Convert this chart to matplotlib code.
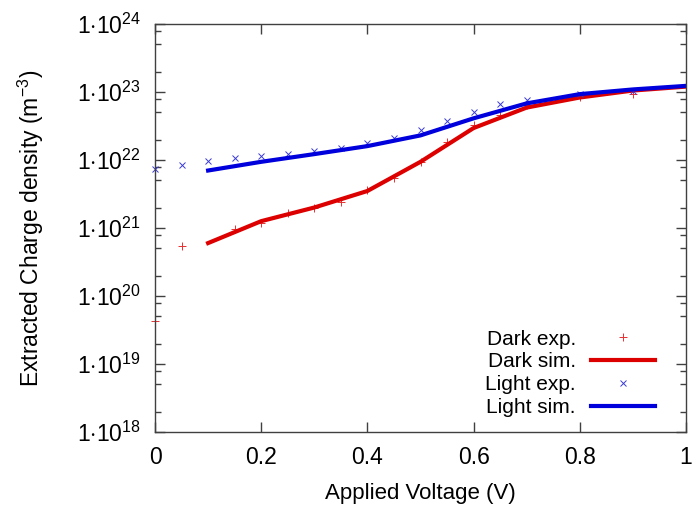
import math

import matplotlib
matplotlib.use("Agg")
import matplotlib.pyplot as plt
from matplotlib.ticker import FixedLocator, FuncFormatter, NullFormatter

plt.rcParams['font.family'] = ['Liberation Sans', 'DejaVu Sans']
plt.rcParams['mathtext.fontset'] = 'custom'
plt.rcParams['mathtext.rm'] = 'Liberation Sans'
plt.rcParams['mathtext.it'] = 'Liberation Sans:italic'

# measured extracted charge density (m^-3)
dark_exp_v = [0.0, 0.05, 0.15, 0.2, 0.25, 0.3, 0.35, 0.4, 0.45, 0.5, 0.55, 0.6, 0.65, 0.7, 0.8, 0.9]
dark_exp_n = [4.3e19, 5.4e20, 9.5e20, 1.17e21, 1.65e21, 2.0e21, 2.4e21, 3.6e21, 5.4e21,
              9.4e21, 1.86e22, 3.3e22, 4.6e22, 6.5e22, 8.5e22, 9.3e22]

light_exp_v = [0.0, 0.05, 0.1, 0.15, 0.2, 0.25, 0.3, 0.35, 0.4, 0.45, 0.5, 0.55, 0.6, 0.65, 0.7, 0.8, 0.9]
light_exp_n = [7.3e21, 8.5e21, 9.7e21, 1.06e22, 1.16e22, 1.22e22, 1.37e22, 1.52e22, 1.76e22,
               2.13e22, 2.76e22, 3.7e22, 5.0e22, 6.6e22, 7.7e22, 9.3e22, 1.03e23]

# simulated curves
sim_v = [0.1, 0.2, 0.3, 0.4, 0.5, 0.6, 0.7, 0.8, 0.9, 1.0]
dark_sim_n = [6.0e20, 1.26e21, 2.0e21, 3.5e21, 9.4e21, 2.95e22, 5.9e22, 8.3e22, 1.05e23, 1.2e23]
light_sim_n = [7.0e21, 9.4e21, 1.22e22, 1.6e22, 2.3e22, 4.1e22, 6.8e22, 9.3e22, 1.09e23, 1.23e23]

x_ticks = [0, 0.2, 0.4, 0.6, 0.8, 1.0]
y_decades = [18, 19, 20, 21, 22, 23, 24]

red = '#dd0000'
blue = '#0000dd'

fig = plt.figure(figsize=(6.97, 5.05), dpi=100)
ax = fig.add_axes([0.2224, 0.1446, 0.7618, 0.8079])

ax.plot(dark_exp_v, dark_exp_n, linestyle='none', marker='+', color='#e83030',
        markersize=5.5, markeredgewidth=0.7, clip_on=False, label='Dark exp.')
ax.plot(sim_v, dark_sim_n, color=red, linewidth=3, label='Dark sim.')
ax.plot(light_exp_v, light_exp_n, linestyle='none', marker='x', color='#3a3ad8',
        markersize=4.5, markeredgewidth=0.7, clip_on=False, label='Light exp.')
ax.plot(sim_v, light_sim_n, color=blue, linewidth=3, label='Light sim.')

ax.set_yscale('log')
ax.set_xlim(0, 1)
ax.set_ylim(1e18, 1e24)

ax.xaxis.set_major_locator(FixedLocator(x_ticks))
ax.xaxis.set_major_formatter(FuncFormatter(lambda v, p: '%g' % v))
ax.yaxis.set_major_locator(FixedLocator([10.0 ** d for d in y_decades]))
ax.yaxis.set_minor_locator(FixedLocator(
    [m * 10.0 ** d for d in y_decades[:-1] for m in (2, 5, 8)]))
ax.yaxis.set_minor_formatter(NullFormatter())
ax.yaxis.set_major_formatter(FuncFormatter(
    lambda v, p: r'$1{\cdot}10^{%d}$' % round(math.log10(v))))

for s in ax.spines.values():
    s.set_color('#404040')
    s.set_linewidth(1.0)
ax.tick_params(which='both', direction='in', top=True, right=True, color='#404040')
ax.tick_params(which='major', length=7, width=1.0, labelsize=16.5)
ax.tick_params(axis='x', which='major', pad=10)
ax.tick_params(axis='y', which='major', pad=10)
ax.tick_params(which='minor', length=4, width=1.0)

ax.set_xlabel('Applied Voltage (V)', fontsize=16)
ax.set_ylabel(r'Extracted Charge density (m$^{-3}$)', fontsize=16.5)
ax.xaxis.set_label_coords(0.5, -0.125)
ax.yaxis.set_label_coords(-0.205, 0.5)

ax.legend(loc='lower right', frameon=False, markerfirst=False, fontsize=15,
          handlelength=3.1, labelspacing=0.19, handletextpad=0.72,
          borderaxespad=0.3, bbox_to_anchor=(0.97, 0.0))

fig.savefig('out.png', dpi=100)
